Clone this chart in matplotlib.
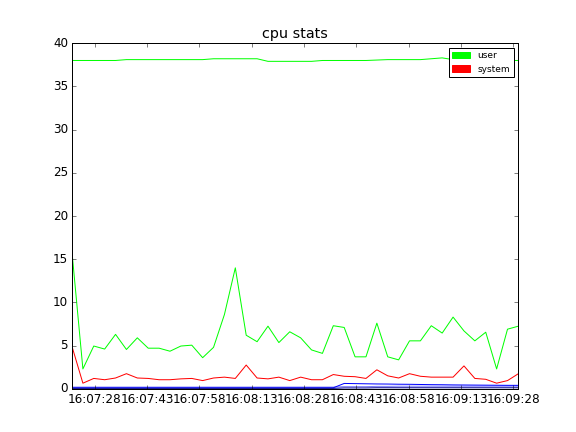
import matplotlib
matplotlib.use("Agg")
import matplotlib.pyplot as plt
import matplotlib.patches as mpatches
import pandas as pd

plt.style.use("classic")

# sample times (one sample every ~3.12 s)
times = pd.date_range("2024-01-01 16:07:21.5", periods=42, freq="3120ms")

tick_times = pd.date_range("2024-01-01 16:07:28", periods=9, freq="15s")
tick_labels = ["16:07:28", "16:07:43", "16:07:58", "16:08:13", "16:08:28",
               "16:08:43", "16:08:58", "16:09:13", "16:09:28"]

user_a = [38.0, 38.0, 38.0, 38.0, 38.0, 38.1, 38.1, 38.1, 38.1, 38.1,
          38.1, 38.1, 38.1, 38.2, 38.2, 38.2, 38.2, 38.2, 37.9, 37.9,
          37.9, 37.9, 37.9, 38.0, 38.0, 38.0, 38.0, 38.0, 38.05, 38.1,
          38.1, 38.1, 38.1, 38.2, 38.3, 38.1, 38.1, 38.1, 38.1, 38.05,
          38.0, 38.0]

user_b = [15.8, 2.3, 4.95, 4.6, 6.3, 4.55, 5.9, 4.7, 4.7, 4.35,
          4.95, 5.05, 3.6, 4.8, 8.6, 14.0, 6.2, 5.45, 7.25, 5.35,
          6.6, 5.9, 4.5, 4.1, 7.3, 7.1, 3.7, 3.7, 7.6, 3.7,
          3.35, 5.55, 5.55, 7.3, 6.45, 8.3, 6.7, 5.55, 6.55, 2.3,
          6.9, 7.25]

system = [4.9, 0.65, 1.2, 1.05, 1.25, 1.75, 1.25, 1.2, 1.05, 1.05,
          1.15, 1.2, 0.95, 1.25, 1.35, 1.2, 2.75, 1.25, 1.15, 1.35,
          0.95, 1.35, 1.05, 1.05, 1.65, 1.45, 1.4, 1.2, 2.2, 1.5,
          1.25, 1.75, 1.45, 1.35, 1.35, 1.35, 2.65, 1.2, 1.1, 0.65,
          0.95, 1.75]

blue_a = [0.12, 0.12, 0.12, 0.12, 0.12, 0.12, 0.12, 0.12, 0.12, 0.12,
          0.12, 0.12, 0.12, 0.12, 0.12, 0.12, 0.12, 0.12, 0.12, 0.12,
          0.12, 0.12, 0.12, 0.12, 0.12, 0.62, 0.6, 0.58, 0.56, 0.55,
          0.53, 0.52, 0.5, 0.48, 0.47, 0.45, 0.44, 0.43, 0.42, 0.41,
          0.4, 0.4]

blue_b = [0.05, 0.05, 0.05, 0.05, 0.05, 0.05, 0.05, 0.05, 0.05, 0.05,
          0.05, 0.05, 0.05, 0.05, 0.05, 0.05, 0.05, 0.05, 0.05, 0.05,
          0.05, 0.05, 0.05, 0.05, 0.05, 0.1, 0.1, 0.1, 0.12, 0.12,
          0.12, 0.12, 0.12, 0.12, 0.12, 0.12, 0.12, 0.12, 0.12, 0.12,
          0.12, 0.12]

blue_c = [0.2, 0.2, 0.2, 0.2, 0.2, 0.2, 0.2, 0.2, 0.2, 0.2,
          0.2, 0.2, 0.2, 0.2, 0.2, 0.2, 0.2, 0.2, 0.2, 0.2,
          0.2, 0.2, 0.2, 0.2, 0.2, 0.25, 0.25, 0.25, 0.28, 0.28,
          0.3, 0.3, 0.3, 0.3, 0.3, 0.3, 0.3, 0.3, 0.3, 0.3,
          0.3, 0.3]

fig = plt.figure(figsize=(8, 6), dpi=72)
ax = fig.add_subplot(111)

ax.plot(times, blue_c, color="#7a7aff", lw=1)
ax.plot(times, blue_a, color="#0000ff", lw=1)
ax.plot(times, blue_b, color="#00008b", lw=1)
ax.plot(times, user_a, color="#00ff00", lw=1)
ax.plot(times, user_b, color="#00ff00", lw=1)
ax.plot(times, system, color="#ff0000", lw=1)

ax.set_xlim(times[0], times[-1])
ax.set_ylim(0, 40)
ax.set_xticks(tick_times)
ax.set_xticklabels(tick_labels)
ax.set_title("cpu stats")

handles = [mpatches.Patch(color="#00ff00", label="user"),
           mpatches.Patch(color="#ff0000", label="system")]
ax.legend(handles=handles, loc="upper right", prop={"size": 9})

fig.savefig("out.png", dpi=72)
